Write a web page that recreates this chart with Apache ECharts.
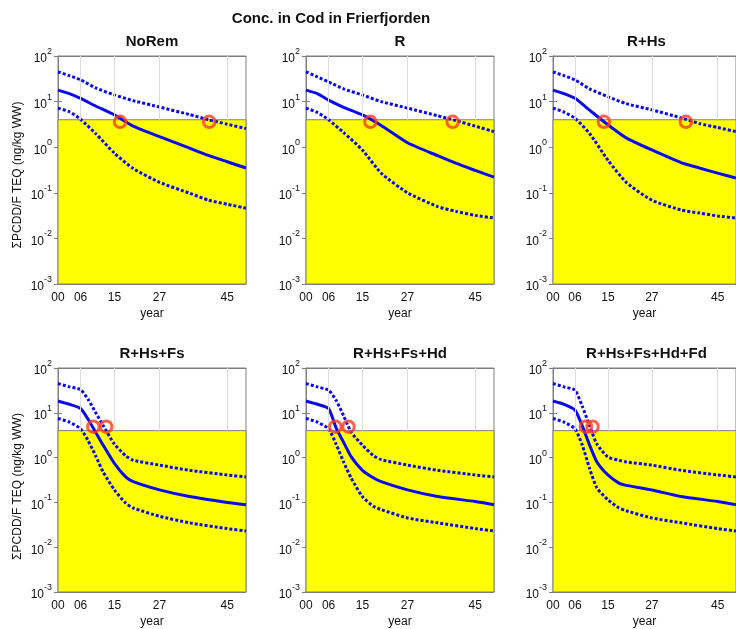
<!DOCTYPE html>
<html><head><meta charset="utf-8">
<script src="https://cdn.jsdelivr.net/npm/echarts@6/dist/echarts.min.js"></script>
<style>html,body{margin:0;padding:0;background:#fff}#c{width:736px;height:629px}</style>
</head><body><div id="c"></div>
<script>
// ---------------- data ----------------
const mainTitle = 'Conc. in Cod in Frierfjorden';
const panelTitles = ['NoRem', 'R', 'R+Hs', 'R+Hs+Fs', 'R+Hs+Fs+Hd', 'R+Hs+Fs+Hd+Fd'];
const yAxisTitle = '\u03A3PCDD/F TEQ (ng/kg WW)';
const xAxisTitle = 'year';
const xTickYears = [0, 6, 15, 27, 45];
const threshold = 4;

const yearsRow1 = [0, 3, 6, 10, 15, 20, 27, 35, 40, 45, 50];
const yearsRow2 = [0, 3, 6, 8, 10, 12, 15, 18, 20, 27, 35, 45, 50];

// NoRem
const upperNoRem  = [45, 37, 30, 20, 14, 10.5, 7.6, 5.2, 4.0, 3.2, 2.55];
const medianNoRem = [17.9, 15, 11.8, 8.0, 5.1, 2.9, 1.7, 0.95, 0.66, 0.48, 0.35];
const lowerNoRem  = [7.2, 6.0, 4.1, 2.0, 0.74, 0.34, 0.17, 0.098, 0.069, 0.056, 0.046];
// R
const upperR  = [45, 35, 27, 19, 14, 10, 7.2, 4.9, 3.8, 2.9, 2.2];
const medianR = [17.9, 15, 10.8, 7.5, 5.1, 3.0, 1.25, 0.65, 0.44, 0.31, 0.22];
const lowerR  = [7.2, 5.8, 4.0, 2.1, 0.87, 0.27, 0.1, 0.05, 0.039, 0.032, 0.028];
// R+Hs
const upperRHs  = [45, 37, 30, 19, 12.8, 9, 6.6, 4.4, 3.3, 2.7, 2.2];
const medianRHs = [17.9, 15, 11.8, 6.5, 3.1, 1.6, 0.87, 0.46, 0.35, 0.27, 0.21];
const lowerRHs  = [7.2, 5.9, 4.3, 2.0, 0.52, 0.17, 0.069, 0.042, 0.036, 0.031, 0.028];
// R+Hs+Fs
const upperRHsFs  = [45, 38, 33, 20, 10.2, 5.2, 2.0, 1.1, 0.87, 0.68, 0.52, 0.41, 0.37];
const medianRHsFs = [18.4, 15.5, 12.5, 7.2, 3.7, 1.9, 0.74, 0.37, 0.29, 0.19, 0.135, 0.1, 0.089];
const lowerRHsFs  = [7.5, 6.2, 4.4, 2.4, 1.1, 0.48, 0.19, 0.097, 0.075, 0.049, 0.035, 0.026, 0.023];
// R+Hs+Fs+Hd
const upperRHsFsHd  = [45, 38, 32, 19, 8.6, 3.7, 1.9, 1.1, 0.9, 0.68, 0.52, 0.41, 0.37];
const medianRHsFsHd = [18.4, 15.5, 12.5, 4.6, 2.2, 1.05, 0.52, 0.35, 0.29, 0.19, 0.135, 0.105, 0.089];
const lowerRHsFsHd  = [7.5, 6.2, 4.4, 2.0, 0.8, 0.35, 0.135, 0.081, 0.069, 0.045, 0.035, 0.026, 0.023];
// R+Hs+Fs+Hd+Fd
const upperRHsFsHdFd  = [45, 38, 32, 14, 5.1, 2.0, 1.03, 0.87, 0.8, 0.68, 0.52, 0.41, 0.37];
const medianRHsFsHdFd = [18.4, 15.5, 11.6, 5.1, 1.9, 0.8, 0.41, 0.27, 0.24, 0.19, 0.135, 0.105, 0.089];
const lowerRHsFsHdFd  = [7.5, 6.2, 4.4, 1.9, 0.57, 0.21, 0.115, 0.075, 0.065, 0.045, 0.035, 0.026, 0.023];

// red circles (year, value)
const circleYears = [[16.5, 40.2], [17.1, 39.0], [13.9, 36.3], [9.4, 12.8], [7.8, 11.3], [9.0, 10.8]];
const circleValues = [[3.6, 3.6], [3.6, 3.6], [3.6, 3.6], [4.9, 4.9], [4.9, 4.9], [4.9, 4.9]];

// ---------------- layout / build ----------------
const panelData = [
  [yearsRow1, upperNoRem, medianNoRem, lowerNoRem],
  [yearsRow1, upperR, medianR, lowerR],
  [yearsRow1, upperRHs, medianRHs, lowerRHs],
  [yearsRow2, upperRHsFs, medianRHsFs, lowerRHsFs],
  [yearsRow2, upperRHsFsHd, medianRHsFsHd, lowerRHsFsHd],
  [yearsRow2, upperRHsFsHdFd, medianRHsFsHdFd, lowerRHsFsHdFd]
];
const FONT = 'Liberation Sans, Arial, sans-serif';
const gridLefts = [58, 306, 553];
const gridWidths = [188, 188, 187];
const gridTops = [56, 368];
const gridHeights = [228, 227];
const BLUE = '#0a0af0';
const GREY = '#808080';
const dotted = [3, 2];

const grids = [], xAxes = [], yAxes = [], series = [], graphics = [];
const zip = (xs, ys) => xs.map((x, i) => [x, ys[i]]);

for (let i = 0; i < 6; i++) {
  const col = i % 3, row = Math.floor(i / 3);
  grids.push({left: gridLefts[col], top: gridTops[row], width: gridWidths[col], height: gridHeights[row],
    show: true, borderColor: GREY, borderWidth: 1, backgroundColor: '#fff'});
  xAxes.push({type: 'value', gridIndex: i, min: 0, max: 50, position: 'bottom',
    axisLine: {show: true, lineStyle: {color: GREY}},
    axisTick: {show: true, inside: true, length: 3, customValues: xTickYears, lineStyle: {color: GREY}},
    axisLabel: {customValues: xTickYears, formatter: v => String(v).padStart(2, '0'),
      color: '#111', fontSize: 12, fontFamily: FONT, margin: 8},
    splitLine: {show: false},
    name: xAxisTitle, nameLocation: 'middle', nameGap: 24,
    nameTextStyle: {color: '#111', fontSize: 12, fontFamily: FONT}});
  yAxes.push({type: 'log', gridIndex: i, min: 0.001, max: 100, logBase: 10, position: 'left',
    axisLine: {show: true, lineStyle: {color: GREY}},
    axisTick: {show: true, inside: true, length: 4, lineStyle: {color: GREY}},
    minorTick: {show: false},
    splitLine: {show: false},
    axisLabel: {margin: 6, color: '#111',
      formatter: v => '{b|10}{s|' + Math.round(Math.log10(v)) + '}',
      rich: {b: {fontSize: 12, fontFamily: FONT, color: '#111', lineHeight: 18, verticalAlign: 'bottom'},
             s: {fontSize: 9, fontFamily: FONT, color: '#111', lineHeight: 10, verticalAlign: 'top'}}}});

  const [yrs, up, med, lo] = panelData[i];
  // background helper: yellow area + grid lines
  series.push({type: 'line', xAxisIndex: i, yAxisIndex: i, data: [], z: 1, silent: true,
    markArea: {silent: true, itemStyle: {color: '#ffff00', opacity: 1, borderColor: GREY, borderWidth: 1},
      data: [[{yAxis: 0.001}, {yAxis: threshold}]]},
    markLine: {silent: true, symbol: 'none', label: {show: false},
      lineStyle: {color: '#dcdcdc', width: 1, type: 'solid'},
      data: xTickYears.filter(v => v > 0).map(v => [{coord: [v, threshold]}, {coord: [v, 100]}])}});
  const lineCommon = {type: 'line', xAxisIndex: i, yAxisIndex: i, showSymbol: false, smooth: 0.2,
    z: 3, silent: true};
  series.push(Object.assign({}, lineCommon, {data: zip(yrs, up), lineStyle: {color: BLUE, width: 3, type: dotted}}));
  series.push(Object.assign({}, lineCommon, {data: zip(yrs, med), lineStyle: {color: BLUE, width: 3, type: 'solid'}}));
  series.push(Object.assign({}, lineCommon, {data: zip(yrs, lo), lineStyle: {color: BLUE, width: 3, type: dotted}}));
  series.push({type: 'scatter', xAxisIndex: i, yAxisIndex: i, z: 5, silent: true,
    symbol: 'circle', symbolSize: 11.5,
    itemStyle: {color: 'rgba(0,0,0,0)', borderColor: '#ff3a1a', borderWidth: 3},
    data: zip(circleYears[i], circleValues[i])});

  graphics.push({type: 'text', x: gridLefts[col] + gridWidths[col] / 2, y: gridTops[row] - 14,
    style: {text: panelTitles[i], font: 'bold 15px ' + FONT, fill: '#111', align: 'center', verticalAlign: 'middle'}});
  if (col === 0) {
    graphics.push({type: 'text', x: 18, y: gridTops[row] + gridHeights[row] / 2 + 5, rotation: Math.PI / 2,
      style: {text: yAxisTitle, font: '12px ' + FONT, fill: '#111', align: 'center', verticalAlign: 'middle'}});
  }
}
// mirrored box axes (top / right) with inward ticks only
for (let i = 0; i < 6; i++) {
  xAxes.push({type: 'value', gridIndex: i, min: 0, max: 50, position: 'top',
    axisLine: {show: true, lineStyle: {color: GREY}},
    axisTick: {show: true, inside: true, length: 3, customValues: xTickYears, lineStyle: {color: GREY}},
    axisLabel: {show: false}, splitLine: {show: false}});
  yAxes.push({type: 'log', gridIndex: i, min: 0.001, max: 100, logBase: 10, position: 'right',
    axisLine: {show: true, lineStyle: {color: GREY}},
    axisTick: {show: true, inside: true, length: 4, lineStyle: {color: GREY}},
    axisLabel: {show: false}, splitLine: {show: false}});
}
graphics.push({type: 'text', x: 331, y: 19,
  style: {text: mainTitle, font: 'bold 15px ' + FONT, fill: '#111', align: 'center', verticalAlign: 'middle'}});

const chart = echarts.init(document.getElementById('c'), null, {renderer: 'canvas'});
chart.setOption({animation: false, backgroundColor: '#fff',
  grid: grids, xAxis: xAxes, yAxis: yAxes, series: series, graphic: graphics});
</script></body></html>
